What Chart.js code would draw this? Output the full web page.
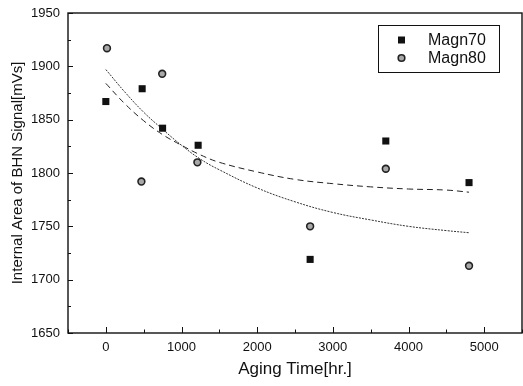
<!DOCTYPE html>
<html>
<head>
<meta charset="utf-8">
<script src="https://cdn.jsdelivr.net/npm/chart.js@4.4.1/dist/chart.umd.min.js"></script>
<style>
html,body{margin:0;padding:0;background:#fff;}
#wrap{width:523px;height:386px;position:relative;}
</style>
</head>
<body>
<div id="wrap"><canvas id="c" width="523" height="386"></canvas></div>
<script>
// ---- data ----
const magn70X = [0, 480, 750, 1220, 2700, 3700, 4800];
const magn70Y = [1867, 1879, 1842, 1826, 1719, 1830, 1791];
const magn80X = [15, 470, 745, 1210, 2700, 3700, 4800];
const magn80Y = [1917, 1792, 1893, 1810, 1750, 1804, 1713];
// fitted curves
const fit70X = [0, 250, 500, 750, 1000, 1250, 1500, 2000, 2500, 3000, 3500, 4000, 4500, 4800];
const fit70Y = [1884, 1865, 1849, 1836, 1826, 1817, 1810, 1801, 1794, 1790, 1787, 1785, 1784, 1782];
const fit80X = [0, 250, 500, 750, 1000, 1250, 1500, 2000, 2500, 3000, 3500, 4000, 4500, 4800];
const fit80Y = [1897, 1876, 1857, 1841, 1826, 1813, 1803, 1786, 1773, 1763, 1756, 1750, 1746, 1744];
const xTickValues = [0, 1000, 2000, 3000, 4000, 5000];
const yTickValues = [1650, 1700, 1750, 1800, 1850, 1900, 1950];
const seriesNames = ['Magn70', 'Magn80'];
const xTitle = 'Aging Time[hr.]';
const yTitle = 'Internal Area of BHN Signal[mVs]';

const pts = (xs, ys) => xs.map((x, i) => ({x: x, y: ys[i]}));
const FONT = "'Liberation Sans', Arial, sans-serif";

const frameTicks = {
  id: 'frameTicks',
  afterDraw(chart) {
    const ctx = chart.ctx, a = chart.chartArea;
    const xs = chart.scales.x, ys = chart.scales.y;
    ctx.save();
    ctx.strokeStyle = '#111';
    ctx.lineWidth = 1.4;
    ctx.strokeRect(a.left, a.top, a.right - a.left, a.bottom - a.top);
    ctx.lineWidth = 1;
    for (let v = -500; v <= 5500; v += 500) {
      const p = Math.round(xs.getPixelForValue(v)) + 0.5;
      const major = v % 1000 === 0;
      ctx.beginPath();
      ctx.moveTo(p, a.bottom);
      ctx.lineTo(p, a.bottom - (major ? 6 : 3.5));
      ctx.stroke();
    }
    for (let v = 1650; v <= 1950; v += 25) {
      const p = Math.round(ys.getPixelForValue(v)) + 0.5;
      const major = v % 50 === 0;
      ctx.beginPath();
      ctx.moveTo(a.left, p);
      ctx.lineTo(a.left + (major ? 5 : 3), p);
      ctx.stroke();
    }
    // legend box
    const L = a.right - 144, T = a.top + 12, W = 121, H = 47;
    ctx.lineWidth = 1;
    ctx.strokeRect(L + 0.5, T + 0.5, W, H);
    const ds = chart.data.datasets;
    [0, 1].forEach(i => {
      const y = T + 15 + i * 18;
      const d = ds[i];
      ctx.fillStyle = d.backgroundColor;
      ctx.strokeStyle = d.borderColor;
      ctx.lineWidth = d.borderWidth;
      if (d.pointStyle === 'rect') {
        ctx.fillRect(L + 20, y - 3.5, 7, 7);
      } else {
        ctx.beginPath();
        ctx.arc(L + 23.5, y, 3.3, 0, Math.PI * 2);
        ctx.fill();
        ctx.stroke();
      }
      ctx.fillStyle = '#111';
      ctx.font = '16px ' + FONT;
      ctx.textBaseline = 'middle';
      ctx.textAlign = 'left';
      ctx.fillText(seriesNames[i], L + 50, y + 1);
    });
    ctx.restore();
  }
};

new Chart(document.getElementById('c'), {
  type: 'scatter',
  data: {
    datasets: [
      {label: seriesNames[0], data: pts(magn70X, magn70Y), pointStyle: 'rect', pointRadius: 5,
       backgroundColor: '#111', borderColor: '#111', borderWidth: 0, order: 1},
      {label: seriesNames[1], data: pts(magn80X, magn80Y), pointStyle: 'circle', pointRadius: 3.4,
       backgroundColor: '#a8a8a8', borderColor: '#222', borderWidth: 1.6, order: 1},
      {label: 'fit70', data: pts(fit70X, fit70Y), showLine: true, pointRadius: 0, borderColor: '#222',
       borderWidth: 1, borderDash: [6, 4], tension: 0.4, fill: false, order: 2},
      {label: 'fit80', data: pts(fit80X, fit80Y), showLine: true, pointRadius: 0, borderColor: '#333',
       borderWidth: 1, borderDash: [2, 1.2], tension: 0.4, fill: false, order: 2}
    ]
  },
  options: {
    responsive: false,
    animation: false,
    events: [],
    layout: {autoPadding: false, padding: {top: 13, right: 1, left: 0, bottom: 0}},
    plugins: {legend: {display: false}, tooltip: {enabled: false}},
    scales: {
      x: {
        type: 'linear', min: -500, max: 5500,
        afterBuildTicks: s => { s.ticks = xTickValues.map(v => ({value: v})); },
        afterFit: s => { s.height = 53; s.paddingLeft = 0; s.paddingRight = 0; },
        grid: {display: false, drawTicks: false},
        border: {display: false},
        ticks: {color: '#111', font: {family: FONT, size: 13}, padding: 7, maxRotation: 0,
                callback: v => String(v)},
        title: {display: true, text: xTitle, color: '#111', font: {family: FONT, size: 17}, padding: {top: 4, bottom: 6}}
      },
      y: {
        type: 'linear', min: 1650, max: 1950,
        afterBuildTicks: s => { s.ticks = yTickValues.map(v => ({value: v})); },
        afterFit: s => { s.width = 68; s.paddingTop = 0; s.paddingBottom = 0; },
        grid: {display: false, drawTicks: false},
        border: {display: false},
        ticks: {color: '#111', font: {family: FONT, size: 13}, padding: 8, callback: v => String(v)},
        title: {display: true, text: yTitle, color: '#111', font: {family: FONT, size: 15}, padding: {top: 9, bottom: 0}}
      }
    }
  },
  plugins: [frameTicks]
});
</script>
</body>
</html>
